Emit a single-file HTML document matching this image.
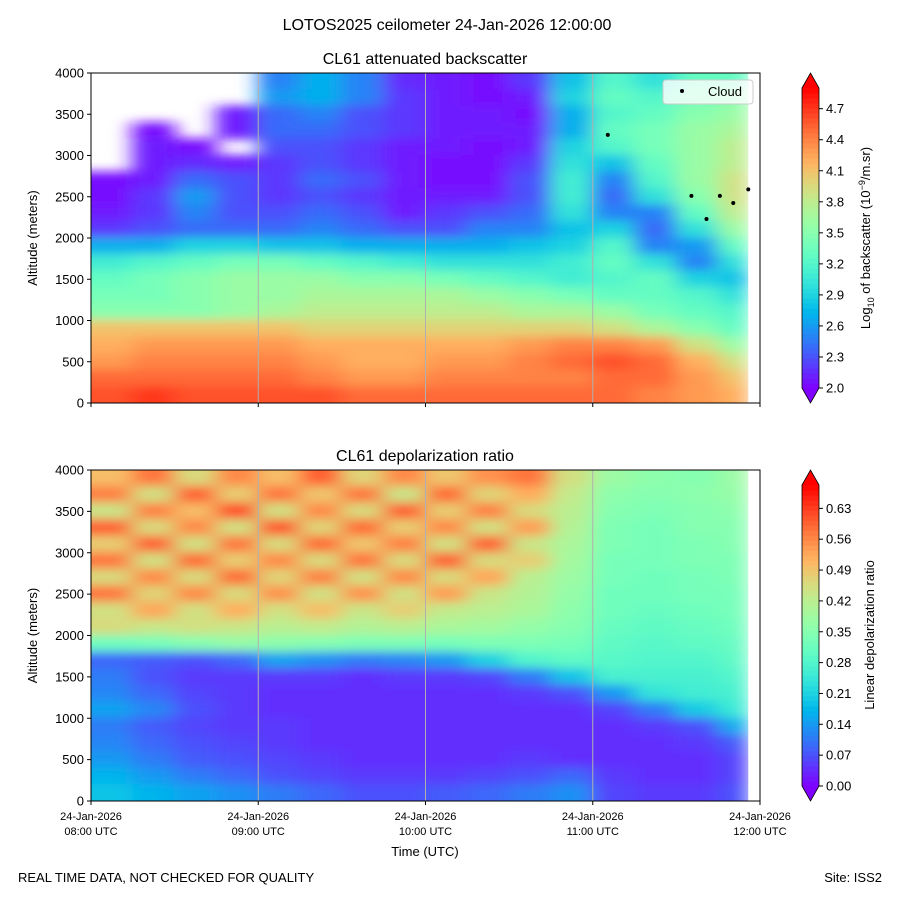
<!DOCTYPE html>
<html><head><meta charset="utf-8"><style>
body{margin:0;background:#fff}
svg{display:block;font-family:"Liberation Sans",sans-serif}
</style></head><body>
<svg id="fig" width="900" height="900" viewBox="0 0 900 900">
<defs>
<filter id="blur" x="-5%" y="-5%" width="110%" height="110%"><feGaussianBlur stdDeviation="10 5"/></filter>
<clipPath id="clipTop"><rect x="91" y="73" width="669" height="330"/></clipPath>
<clipPath id="clipBot"><rect x="91" y="470" width="669" height="331"/></clipPath>
</defs>
<text x="447" y="30" font-size="16" text-anchor="middle">LOTOS2025 ceilometer 24-Jan-2026 12:00:00</text>
<text x="425" y="64" font-size="16" text-anchor="middle">CL61 attenuated backscatter</text>
<text x="425" y="461" font-size="16" text-anchor="middle">CL61 depolarization ratio</text>
<g id="topHeat" clip-path="url(#clipTop)"></g>
<g id="botHeat" clip-path="url(#clipBot)"></g>
<g id="axes"></g>
<text x="18" y="882" font-size="13">REAL TIME DATA, NOT CHECKED FOR QUALITY</text>
<text x="882" y="882" font-size="13" text-anchor="end">Site: ISS2</text>
<text x="425" y="856" font-size="13" text-anchor="middle">Time (UTC)</text>
</svg>
<script>
const timeBins=[8,8.25,8.5,8.75,9,9.25,9.5,9.75,10,10.25,10.5,10.75,11,11.25,11.5,11.75];
const altBins=[3900,3700,3500,3300,3100,2900,2700,2500,2300,2100,1900,1700,1500,1300,1100,900,700,500,300,100];
const N=null;
const backscatter=[
[N,N,N,N,2.5,2.7,2.5,2.15,2.1,2.05,2.2,2.8,3.2,3.0,3.3,3.3],
[N,N,N,N,2.6,2.7,2.5,2.2,2.1,2.05,2.1,2.9,3.3,3.2,3.4,3.5],
[N,N,N,2.1,2.4,2.5,2.3,2.2,2.1,2.1,2.05,2.7,3.2,3.3,3.5,3.6],
[N,2.05,N,2.1,2.4,2.4,2.3,2.2,2.1,2.1,2.1,2.7,3.3,3.4,3.6,3.7],
[N,2.1,2.05,N,2.3,2.3,2.2,2.1,2.1,2.05,2.1,2.9,3.2,3.4,3.6,3.8],
[N,2.1,2.15,2.1,2.2,2.3,2.2,2.1,2.05,2.05,2.2,3.0,2.8,3.3,3.6,3.8],
[2.05,2.1,2.4,2.3,2.2,2.4,2.3,2.1,2.05,2.05,2.3,3.1,2.5,3.2,3.6,3.9],
[2.05,2.2,2.6,2.3,2.2,2.3,2.2,2.1,2.1,2.1,2.3,3.1,2.4,3.0,3.5,3.9],
[2.1,2.2,2.5,2.3,2.3,2.4,2.3,2.1,2.2,2.3,2.4,3.0,2.5,2.5,3.3,3.8],
[2.2,2.3,2.4,2.4,2.4,2.5,2.4,2.3,2.3,2.5,2.5,2.8,2.9,2.4,3.0,3.6],
[2.7,2.7,2.9,2.9,2.8,2.8,2.7,2.7,2.7,2.7,2.8,2.9,3.2,2.5,2.6,3.3],
[3.1,3.2,3.3,3.4,3.4,3.3,3.2,3.1,3.0,3.0,3.0,3.1,3.3,3.0,2.5,3.0],
[3.3,3.4,3.5,3.6,3.6,3.6,3.5,3.5,3.4,3.3,3.2,3.1,3.2,3.3,2.9,2.8],
[3.4,3.4,3.5,3.6,3.6,3.7,3.7,3.7,3.7,3.6,3.5,3.4,3.3,3.3,3.2,3.0],
[3.5,3.5,3.5,3.6,3.7,3.8,3.8,3.8,3.8,3.8,3.7,3.7,3.6,3.4,3.3,3.2],
[4.1,4.1,4.1,4.1,4.1,4.0,4.0,4.0,4.0,4.0,4.0,4.0,3.9,3.7,3.5,3.3],
[4.2,4.3,4.3,4.3,4.3,4.2,4.2,4.2,4.2,4.2,4.3,4.4,4.4,4.3,3.9,3.6],
[4.3,4.4,4.4,4.4,4.4,4.3,4.2,4.2,4.3,4.3,4.4,4.5,4.6,4.5,4.2,3.9],
[4.5,4.5,4.5,4.5,4.5,4.4,4.3,4.3,4.4,4.4,4.4,4.4,4.5,4.5,4.3,4.1],
[4.6,4.7,4.6,4.6,4.6,4.6,4.5,4.5,4.5,4.5,4.5,4.5,4.5,4.4,4.3,4.2]];
const depol=[
[0.50,0.58,0.46,0.56,0.50,0.60,0.47,0.56,0.49,0.55,0.58,0.45,0.38,0.36,0.35,0.38],
[0.57,0.45,0.60,0.48,0.58,0.49,0.58,0.44,0.59,0.47,0.52,0.43,0.36,0.35,0.36,0.37],
[0.44,0.57,0.50,0.62,0.45,0.56,0.46,0.60,0.48,0.57,0.46,0.42,0.35,0.34,0.35,0.36],
[0.60,0.46,0.56,0.45,0.61,0.47,0.59,0.48,0.56,0.45,0.54,0.41,0.34,0.33,0.35,0.35],
[0.48,0.60,0.45,0.58,0.46,0.59,0.49,0.57,0.45,0.60,0.44,0.40,0.34,0.33,0.34,0.35],
[0.58,0.45,0.59,0.48,0.56,0.46,0.58,0.46,0.60,0.46,0.48,0.39,0.33,0.33,0.34,0.34],
[0.46,0.56,0.46,0.59,0.47,0.57,0.45,0.56,0.46,0.53,0.42,0.38,0.33,0.32,0.33,0.34],
[0.58,0.47,0.56,0.46,0.55,0.45,0.55,0.45,0.54,0.44,0.41,0.37,0.32,0.32,0.33,0.33],
[0.45,0.53,0.45,0.52,0.45,0.50,0.44,0.48,0.43,0.42,0.40,0.36,0.32,0.31,0.32,0.33],
[0.46,0.44,0.45,0.44,0.42,0.43,0.41,0.42,0.40,0.39,0.37,0.35,0.31,0.30,0.31,0.32],
[0.32,0.33,0.35,0.37,0.36,0.35,0.34,0.34,0.33,0.34,0.34,0.33,0.30,0.29,0.30,0.31],
[0.09,0.08,0.07,0.09,0.15,0.13,0.11,0.12,0.14,0.21,0.28,0.30,0.29,0.28,0.28,0.30],
[0.11,0.07,0.05,0.05,0.05,0.05,0.04,0.05,0.05,0.06,0.11,0.19,0.27,0.27,0.27,0.28],
[0.12,0.09,0.06,0.05,0.04,0.04,0.04,0.04,0.04,0.04,0.05,0.07,0.14,0.24,0.26,0.27],
[0.15,0.12,0.07,0.05,0.04,0.04,0.04,0.04,0.04,0.04,0.04,0.04,0.06,0.11,0.20,0.25],
[0.11,0.08,0.06,0.05,0.05,0.04,0.04,0.04,0.04,0.04,0.04,0.04,0.04,0.05,0.07,0.16],
[0.12,0.09,0.07,0.06,0.05,0.04,0.04,0.04,0.04,0.04,0.04,0.04,0.04,0.04,0.05,0.08],
[0.14,0.11,0.08,0.07,0.06,0.05,0.04,0.04,0.04,0.04,0.05,0.04,0.04,0.04,0.04,0.06],
[0.17,0.14,0.11,0.09,0.07,0.06,0.05,0.05,0.05,0.06,0.07,0.09,0.05,0.04,0.04,0.06],
[0.19,0.17,0.15,0.13,0.11,0.09,0.07,0.07,0.08,0.09,0.11,0.13,0.06,0.05,0.05,0.07]];
const cloudTimes=[11.09,11.59,11.68,11.76,11.84,11.93];
const cloudAlts=[3250,2510,2230,2510,2425,2590];
const timeTicks=[8,9,10,11,12];
const timeTickLabels=["08:00 UTC","09:00 UTC","10:00 UTC","11:00 UTC","12:00 UTC"];
const altTicks=[0,500,1000,1500,2000,2500,3000,3500,4000];
const bsTicks=[2.0,2.3,2.6,2.9,3.2,3.5,3.8,4.1,4.4,4.7];
const dpTicks=[0.00,0.07,0.14,0.21,0.28,0.35,0.42,0.49,0.56,0.63];

const NS="http://www.w3.org/2000/svg";
function mk(tag,attrs,parent){const e=document.createElementNS(NS,tag);for(const k in attrs)e.setAttribute(k,attrs[k]);parent.appendChild(e);return e;}
function rainbow(t){t=Math.max(0,Math.min(1,t));const r=Math.min(1,Math.abs(2*t-0.5)),g=Math.sin(Math.PI*t),b=Math.cos(Math.PI*t/2);
return `rgb(${Math.round(r*255)},${Math.round(g*255)},${Math.round(b*255)})`;}
const X0=91,X1=760;
const xs=t=>X0+(t-8)/4*(X1-X0);
const panels=[{top:73,bot:403,g:'topHeat',data:backscatter,vmin:2.0,vmax:4.9,ticks:bsTicks,fmt:v=>v.toFixed(1),name:'backscatter'},
{top:470,bot:801,g:'botHeat',data:depol,vmin:0,vmax:0.683,ticks:dpTicks,fmt:v=>v.toFixed(2),name:'depol'}];
const axes=document.getElementById('axes');
panels.forEach((p,pi)=>{
  const ys=a=>p.bot-a/4000*(p.bot-p.top);
  const g=document.getElementById(p.g);
  const inner=mk('g',{filter:'url(#blur)'},g);
  const dataEnd=xs(11.93);
  const nr=p.data.length;
  p.data.forEach((row,ri)=>row.forEach((v,ci)=>{
    if(v===null)return;
    let x=xs(timeBins[ci]), x2=(ci===timeBins.length-1?dataEnd:xs(timeBins[ci]+0.25));
    if(ci===0)x-=30;
    let y=ys(altBins[ri]+100), y2=ys(altBins[ri]-100);
    if(ri===0)y-=20;
    if(ri===nr-1)y2+=20;
    const r=mk('rect',{x:x-0.5,y:y-0.5,width:x2-x+1,height:y2-y+1,fill:rainbow((v-p.vmin)/(p.vmax-p.vmin))},inner);
    
    
  }));
  mk('rect',{x:dataEnd,y:p.top,width:X1-dataEnd,height:p.bot-p.top,fill:'#fff'},g);
  timeTicks.slice(1,4).forEach(t=>mk('line',{x1:xs(t),x2:xs(t),y1:p.top,y2:p.bot,stroke:'#b0b0b0','stroke-width':1},axes));
  const fr=mk('rect',{x:X0,y:p.top,width:X1-X0,height:p.bot-p.top,fill:'none',stroke:'#000','stroke-width':1},axes);
  
  
  altTicks.forEach(a=>{mk('line',{x1:X0-4,x2:X0,y1:ys(a),y2:ys(a),stroke:'#000'},axes);
    const t=mk('text',{x:X0-7,y:ys(a)+4.5,'font-size':13,'text-anchor':'end'},axes);t.textContent=a;
    });
  timeTicks.forEach((tt,i)=>{mk('line',{x1:xs(tt),x2:xs(tt),y1:p.bot,y2:p.bot+4,stroke:'#000'},axes);
    if(pi===1){const t1=mk('text',{x:xs(tt),y:p.bot+19,'font-size':11,'text-anchor':'middle'},axes);t1.textContent='24-Jan-2026';
      
      const t2=mk('text',{x:xs(tt),y:p.bot+34,'font-size':11,'text-anchor':'middle'},axes);t2.textContent=timeTickLabels[i];
      }});
  const yl=mk('text',{x:0,y:0,'font-size':13,'text-anchor':'middle',transform:`translate(37,${(p.top+p.bot)/2}) rotate(-90)`},axes);
  yl.textContent='Altitude (meters)';
  const cx=802,cw=17,ct=p.top+15,cb=p.bot-15;
  const cg=mk('g',{},axes);
  const n=60;for(let i=0;i<n;i++){mk('rect',{x:cx,y:cb-(i+1)*(cb-ct)/n,width:cw,height:(cb-ct)/n+0.6,fill:rainbow((i+0.5)/n)},cg);}
  mk('polygon',{points:`${cx},${ct} ${cx+cw},${ct} ${cx+cw/2},${p.top}`,fill:rainbow(1)},cg);
  mk('polygon',{points:`${cx},${cb} ${cx+cw},${cb} ${cx+cw/2},${p.bot}`,fill:rainbow(0)},cg);
  mk('polygon',{points:`${cx},${ct} ${cx+cw/2},${p.top} ${cx+cw},${ct} ${cx+cw},${cb} ${cx+cw/2},${p.bot} ${cx},${cb}`,fill:'none',stroke:'#000','stroke-width':0.8},cg);
  p.ticks.forEach(v=>{const y=cb-(v-p.vmin)/(p.vmax-p.vmin)*(cb-ct);
    mk('line',{x1:cx+cw,x2:cx+cw+4,y1:y,y2:y,stroke:'#000'},cg);
    const t=mk('text',{x:cx+cw+7,y:y+4.5,'font-size':13},cg);t.textContent=p.fmt(v);
    });
});
const cl1=mk('text',{x:0,y:0,'font-size':13,'text-anchor':'middle',transform:'translate(870,238) rotate(-90)'},axes);
cl1.innerHTML='Log<tspan font-size="9" dy="4">10</tspan><tspan dy="-4"> of backscatter (10</tspan><tspan font-size="9" dy="-5">−9</tspan><tspan dy="5">/m.sr)</tspan>';

const cl2=mk('text',{x:0,y:0,'font-size':13,'text-anchor':'middle',transform:'translate(874,635) rotate(-90)'},axes);
cl2.textContent='Linear depolarization ratio';

const ysT=a=>403-a/4000*330;
cloudTimes.forEach((t,i)=>{const c=mk('circle',{cx:xs(t),cy:ysT(cloudAlts[i]),r:2,fill:'#000'},axes);
  });
const lg=mk('g',{},axes);
mk('rect',{x:663,y:80,width:90,height:24,rx:3,fill:'rgba(255,255,255,0.8)',stroke:'#ccc'},lg);
mk('circle',{cx:682,cy:91,r:2,fill:'#000'},lg);
const lt=mk('text',{x:708,y:96,'font-size':13},lg);lt.textContent='Cloud';

</script>
</body></html>
